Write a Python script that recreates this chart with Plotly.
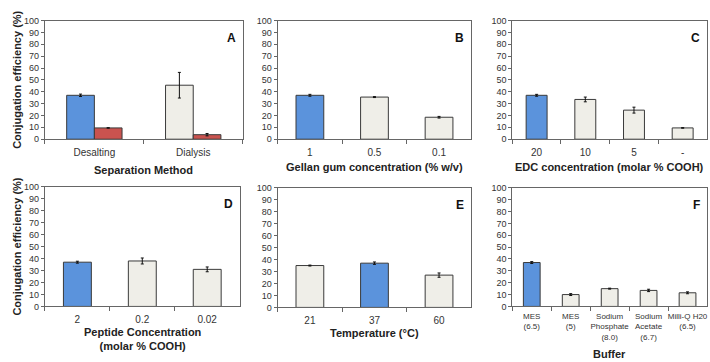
import plotly.graph_objects as go

# ---------------- data ----------------
A_categories = ["Desalting", "Dialysis"]
A_main = [37, 45.5]
A_main_err = [1, 10.8]
A_red = [9.5, 3.8]
A_red_err = [0.2, 1]

B_categories = ["1", "0.5", "0.1"]
B_values = [37, 35.5, 18.5]
B_err = [0.8, 0.4, 0.7]

C_categories = ["20", "10", "5", "-"]
C_values = [37, 33.5, 24.5, 9.5]
C_err = [0.8, 2, 2.5, 0.2]

D_categories = ["2", "0.2", "0.02"]
D_values = [37, 38, 31]
D_err = [0.8, 2.5, 2]

E_categories = ["21", "37", "60"]
E_values = [35, 37, 27]
E_err = [0.4, 1, 1.8]

F_categories = ["MES<br>(6.5)", "MES<br>(5)", "Sodium<br>Phosphate<br>(8.0)",
                "Sodium<br>Acetate<br>(6.7)", "Milli-Q H20<br>(6.5)"]
F_values = [37, 10, 15, 13.5, 11.5]
F_err = [0.8, 0.8, 0.4, 1, 0.8]

panel_letters = ["A", "B", "C", "D", "E", "F"]
x_titles = ["Separation Method", "Gellan gum concentration (% w/v)",
            "EDC concentration (molar % COOH)",
            "Peptide Concentration<br>(molar % COOH)", "Temperature (°C)", "Buffer"]
y_title = "Conjugation efficiency (%)"
y_ticks = list(range(0, 101, 10))

# ---------------- style ----------------
W, H = 710, 362
BLUE = "#5b93dc"
GRAY = "#efeee8"
RED = "#c9534f"
EDGE = "#3a3a3a"
FONT = "Liberation Sans, Arial, sans-serif"

def px_x(p):
    return p / W

def px_y(p):
    return 1 - p / H

domains_x = [(45, 243), (278, 472), (513, 708), (45, 240), (278, 472), (513, 708)]
domains_y = [(16, 138), (16, 138), (16, 138), (187, 310), (188, 311), (188, 310)]

fig = go.Figure()

def colors(n, hi):
    return [BLUE if i == hi else GRAY for i in range(n)]

def err(vals):
    return dict(type="data", array=vals, visible=True, color="#111111",
                thickness=1, width=1.5)

# Panel A
fig.add_trace(go.Bar(x=A_categories, y=A_main, marker=dict(color=[BLUE, GRAY],
                     line=dict(color=EDGE, width=1)), width=0.28, offset=-0.28,
                     error_y=err(A_main_err), xaxis="x", yaxis="y", showlegend=False))
fig.add_trace(go.Bar(x=A_categories, y=A_red, marker=dict(color=RED,
                     line=dict(color=EDGE, width=1)), width=0.28, offset=0,
                     error_y=err(A_red_err), xaxis="x", yaxis="y", showlegend=False))

single = [(B_categories, B_values, B_err, 0),
          (C_categories, C_values, C_err, 0),
          (D_categories, D_values, D_err, 0),
          (E_categories, E_values, E_err, 1),
          (F_categories, F_values, F_err, 0)]
for k, (cats, vals, er, hi) in enumerate(single, start=2):
    fig.add_trace(go.Bar(x=cats, y=vals,
                         marker=dict(color=colors(len(cats), hi), line=dict(color=EDGE, width=1)),
                         width=0.43, error_y=err(er),
                         xaxis=f"x{k}", yaxis=f"y{k}", showlegend=False))

layout = dict(width=W, height=H, margin=dict(l=0, r=0, t=0, b=0),
              paper_bgcolor="white", plot_bgcolor="white", barmode="overlay",
              font=dict(family=FONT, color="#333333"))
annotations = []
for i in range(6):
    k = "" if i == 0 else str(i + 1)
    x0, x1 = domains_x[i]
    y0, y1 = domains_y[i]
    tickfont = 8 if i == 5 else 10
    layout[f"xaxis{k}"] = dict(domain=[px_x(x0), px_x(x1)], anchor=f"y{k}", type="category",
                               showline=True, mirror=True, linecolor="#666666", linewidth=1,
                               ticks="outside", ticklen=4, tickcolor="#666666",
                               tickson="boundaries", showgrid=False, tickangle=0,
                               ticklabelstandoff=4 if i != 5 else 2,
                               tickfont=dict(size=tickfont, color="#333333"))
    layout[f"yaxis{k}"] = dict(domain=[px_y(y1), px_y(y0)], anchor=f"x{k}", range=[0, 100],
                               tickvals=y_ticks, showline=True, mirror=True,
                               linecolor="#666666", linewidth=1, ticks="outside", ticklen=3,
                               tickcolor="#666666", showgrid=False, zeroline=False,
                               tickfont=dict(size=9, color="#333333"))
    annotations.append(dict(text=f"<b>{panel_letters[i]}</b>", xref=f"x{k} domain",
                            yref=f"y{k} domain", x=0.975, y=0.93, xanchor="right",
                            yanchor="top", showarrow=False,
                            font=dict(size=12, color="#111111", family=FONT)))

# x titles
xt_pos = [(144, 170), (375, 167), (610, 167), (143, 343), (375, 337), (610, 358.5)]
for i, (cx, cy) in enumerate(xt_pos):
    annotations.append(dict(text=f"<b>{x_titles[i]}</b>", xref="paper", yref="paper",
                            x=px_x(cx), y=px_y(cy), xanchor="center", yanchor="middle",
                            showarrow=False,
                            font=dict(size=11, color="#222222", family=FONT)))
# y titles
for cy in [(16 + 138) / 2, (187 + 310) / 2]:
    annotations.append(dict(text=f"<b>{y_title}</b>", xref="paper", yref="paper",
                            x=px_x(17), y=px_y(cy), xanchor="center", yanchor="middle",
                            textangle=-90, showarrow=False,
                            font=dict(size=11, color="#222222", family=FONT)))
layout["annotations"] = annotations
fig.update_layout(**layout)
fig.write_html("out.html")
